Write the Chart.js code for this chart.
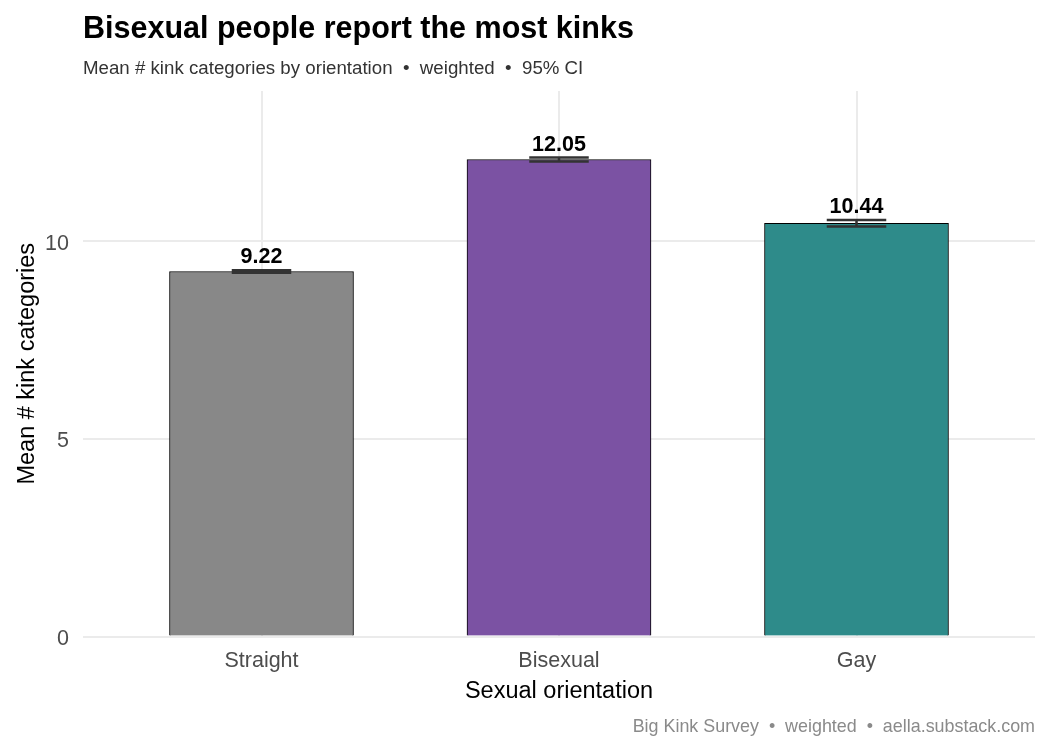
<!DOCTYPE html>
<html lang="en">
<head>
  <meta charset="UTF-8" />
  <title>Bisexual people report the most kinks</title>
  <script src="https://cdn.jsdelivr.net/npm/chart.js"></script>
  <style>
    html, body { margin: 0; padding: 0; background: #fff; }
  </style>
</head>
<body>
  <canvas id="chart" width="1050" height="750"></canvas>

  <script>
    // Data
    const categories = ['Straight', 'Bisexual', 'Gay'];
    const means = [9.22, 12.05, 10.44];
    const ciLow = [9.19, 12.00, 10.36];
    const ciHigh = [9.25, 12.10, 10.52];
    const barColors = ['#888888', '#7B52A3', '#2E8B8A'];
    const yTicks = [0, 5, 10];

    const FONT = '"Liberation Sans", Arial, sans-serif';

    // error bars + value labels, then title / subtitle / caption
    const errorBars = {
      id: 'errorBars',
      afterDatasetsDraw(chart) {
        const { ctx, scales } = chart;
        const x = scales.x, y = scales.y;
        ctx.save();
        ctx.strokeStyle = '#333333';
        ctx.lineWidth = 2.5;
        means.forEach((m, i) => {
          const cx = x.getPixelForValue(i + 1);
          const hw = x.getPixelForValue(1.1) - x.getPixelForValue(1);
          const yl = y.getPixelForValue(ciLow[i]);
          const yh = y.getPixelForValue(ciHigh[i]);
          ctx.beginPath();
          ctx.moveTo(cx - hw, yl); ctx.lineTo(cx + hw, yl);
          ctx.moveTo(cx - hw, yh); ctx.lineTo(cx + hw, yh);
          ctx.moveTo(cx, yl); ctx.lineTo(cx, yh);
          ctx.stroke();
          ctx.fillStyle = '#000';
          ctx.font = 'bold 21.5px ' + FONT;
          ctx.textAlign = 'center';
          ctx.textBaseline = 'alphabetic';
          ctx.fillText(m.toFixed(2), cx, yh - 7);
        });
        ctx.restore();
      },
      afterDraw(chart) {
        const ctx = chart.ctx;
        ctx.save();
        ctx.textBaseline = 'alphabetic';
        ctx.textAlign = 'left';
        ctx.fillStyle = '#000';
        ctx.font = 'bold 30.5px ' + FONT;
        ctx.fillText('Bisexual people report the most kinks', 83, 38);
        ctx.fillStyle = '#333333';
        ctx.font = '18.7px ' + FONT;
        ctx.fillText('Mean # kink categories by orientation  \u2022  weighted  \u2022  95% CI', 83, 74);
        ctx.textAlign = 'right';
        ctx.fillStyle = '#8a8a8a';
        ctx.font = '17.9px ' + FONT;
        ctx.fillText('Big Kink Survey  \u2022  weighted  \u2022  aella.substack.com', 1035, 732);
        ctx.restore();
      }
    };

    const ctx = document.getElementById('chart').getContext('2d');
    new Chart(ctx, {
      type: 'bar',
      data: {
        datasets: [{
          data: means.map((m, i) => ({ x: i + 1, y: m })),
          backgroundColor: barColors,
          borderColor: '#000000',
          borderWidth: 1,
          barThickness: 184
        }]
      },
      options: {
        responsive: false,
        animation: false,
        layout: { padding: { top: 91, right: 15, bottom: 40, left: 0 } },
        plugins: { legend: { display: false }, tooltip: { enabled: false } },
        scales: {
          x: {
            type: 'linear',
            offset: false,
            min: 0.4,
            max: 3.6,
            afterBuildTicks: s => { s.ticks = [1, 2, 3].map(v => ({ value: v })); },
            afterFit: s => { s.height = 73.5; },
            ticks: {
              callback: v => categories[v - 1],
              font: { family: FONT, size: 21.5 },
              color: '#4d4d4d',
              padding: 12,
              maxRotation: 0
            },
            grid: { color: '#ebebeb', lineWidth: 2, drawTicks: false, offset: false },
            border: { display: false },
            title: {
              display: true,
              text: 'Sexual orientation',
              font: { family: FONT, size: 23.5 },
              color: '#000',
              padding: { top: 0, bottom: 4 }
            }
          },
          y: {
            min: 0,
            max: 13.78,
            afterBuildTicks: s => { s.ticks = yTicks.map(v => ({ value: v })); },
            afterFit: s => { s.width = 83; },
            ticks: {
              font: { family: FONT, size: 21.5 },
              color: '#4d4d4d',
              padding: 14,
              labelOffset: 3
            },
            grid: { color: '#ebebeb', lineWidth: 2, drawTicks: false },
            border: { display: false },
            title: {
              display: true,
              text: 'Mean # kink categories',
              font: { family: FONT, size: 23.5 },
              color: '#000',
              padding: { top: 13, bottom: 0 }
            }
          }
        }
      },
      plugins: [errorBars]
    });
  </script>
</body>
</html>
